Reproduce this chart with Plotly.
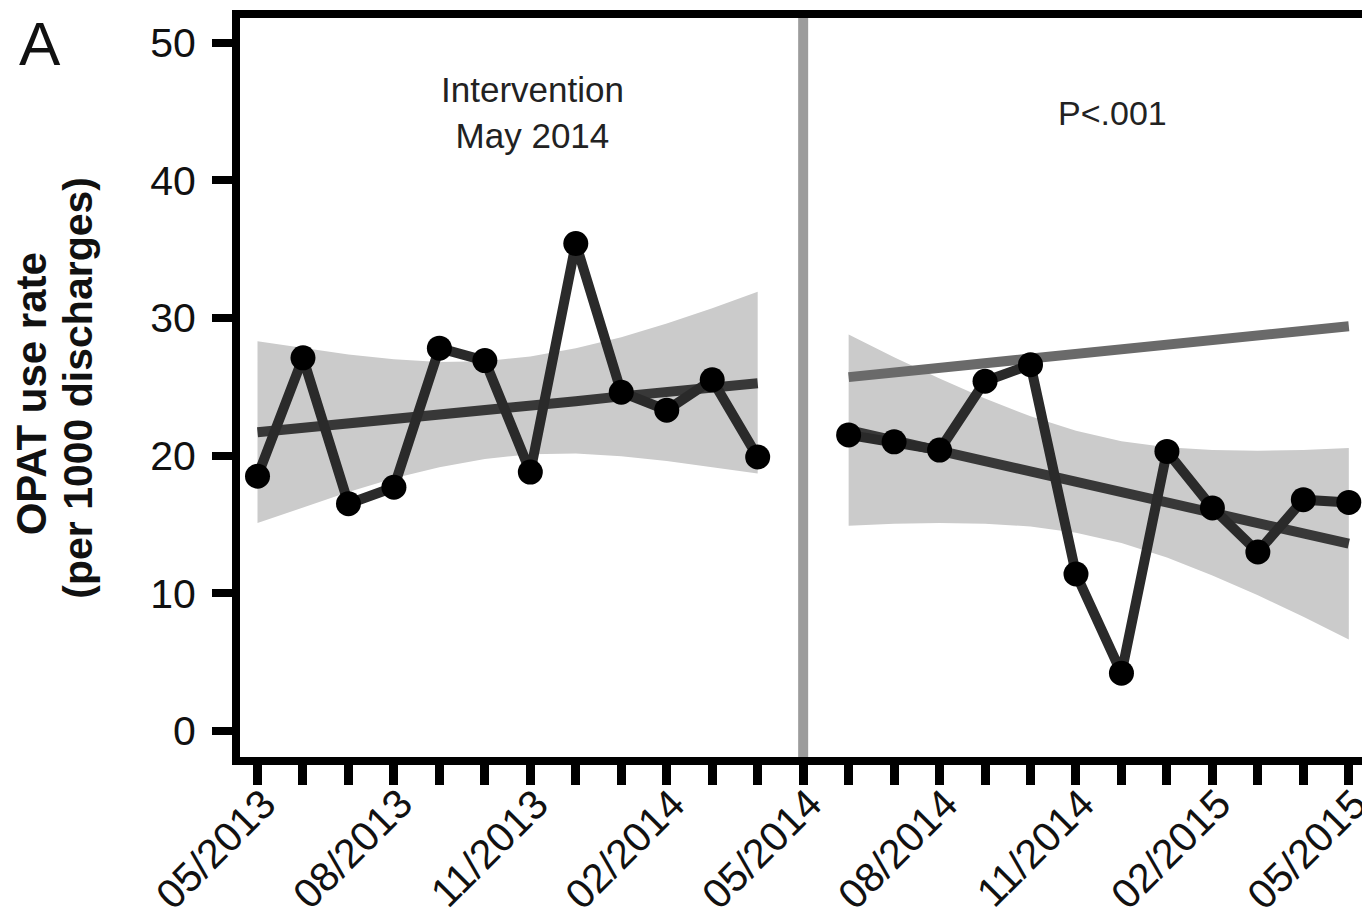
import plotly.graph_objects as go

# ---- data ----
month_labels = ["05/2013", "06/2013", "07/2013", "08/2013", "09/2013", "10/2013", "11/2013",
                "12/2013", "01/2014", "02/2014", "03/2014", "04/2014", "05/2014", "06/2014",
                "07/2014", "08/2014", "09/2014", "10/2014", "11/2014", "12/2014", "01/2015",
                "02/2015", "03/2015", "04/2015", "05/2015"]
shown_labels = ["05/2013", "08/2013", "11/2013", "02/2014", "05/2014", "08/2014",
                "11/2014", "02/2015", "05/2015"]

pre_idx = [0, 1, 2, 3, 4, 5, 6, 7, 8, 9, 10, 11]
pre_rate = [18.5, 27.1, 16.5, 17.7, 27.8, 26.9, 18.8, 35.4, 24.6, 23.3, 25.5, 19.9]
pre_trend = [21.7, 22.0, 22.35, 22.65, 23.0, 23.3, 23.65, 23.95, 24.3, 24.6, 24.9, 25.25]
pre_upper = [28.3, 27.8, 27.35, 27.0, 26.8, 26.85, 27.2, 27.8, 28.6, 29.6, 30.7, 31.9]
pre_lower = [15.1, 16.2, 17.35, 18.35, 19.15, 19.75, 20.1, 20.15, 19.95, 19.6, 19.15, 18.7]

post_idx = [13, 14, 15, 16, 17, 18, 19, 20, 21, 22, 23, 24]
post_rate = [21.5, 21.0, 20.4, 25.4, 26.6, 11.4, 4.2, 20.3, 16.2, 13.0, 16.8, 16.6]
post_trend = [21.85, 21.1, 20.35, 19.6, 18.85, 18.1, 17.35, 16.6, 15.85, 15.1, 14.35, 13.6]
post_upper = [28.8, 27.15, 25.6, 24.15, 22.85, 21.8, 21.05, 20.6, 20.4, 20.35, 20.4, 20.55]
post_lower = [14.9, 15.05, 15.1, 15.05, 14.85, 14.4, 13.65, 12.6, 11.3, 9.85, 8.3, 6.65]

counterfactual_idx = [13, 24]
counterfactual = [25.7, 29.4]

intervention_idx = 12

FONT = "Liberation Sans, Arial, Helvetica, sans-serif"
BAND = "#cbcbcb"
DATA_LINE = "#2a2a2a"
TREND = "#383838"
CF = "#6a6a6a"

fig = go.Figure()

for idx, up, lo in [(pre_idx, pre_upper, pre_lower), (post_idx, post_upper, post_lower)]:
    fig.add_trace(go.Scatter(x=idx + idx[::-1], y=up + lo[::-1], fill="toself",
                             fillcolor=BAND, line=dict(width=0), mode="lines",
                             hoverinfo="skip", showlegend=False))

fig.add_trace(go.Scatter(x=counterfactual_idx, y=counterfactual, mode="lines",
                         line=dict(color=CF, width=10), showlegend=False))
fig.add_trace(go.Scatter(x=pre_idx, y=pre_trend, mode="lines",
                         line=dict(color=TREND, width=10), showlegend=False))
fig.add_trace(go.Scatter(x=post_idx, y=post_trend, mode="lines",
                         line=dict(color=TREND, width=10), showlegend=False))

for idx, rate in [(pre_idx, pre_rate), (post_idx, post_rate)]:
    fig.add_trace(go.Scatter(x=idx, y=rate, mode="lines+markers",
                             line=dict(color=DATA_LINE, width=10),
                             marker=dict(color="black", size=25),
                             showlegend=False))

fig.add_shape(type="line", xref="x", yref="paper", x0=intervention_idx, x1=intervention_idx,
              y0=0, y1=1, line=dict(color="#9c9c9c", width=10), layer="below")

tick_vals = list(range(len(month_labels)))

fig.update_xaxes(range=[-0.385, 24.4], tickmode="array", tickvals=tick_vals,
                 ticktext=["" for _ in month_labels], showticklabels=False,
                 ticks="outside", ticklen=20, tickwidth=9, tickcolor="black",
                 showline=True, linewidth=8, linecolor="black", mirror=True,
                 showgrid=False, zeroline=False, automargin=False)
fig.update_yaxes(range=[-1.89, 51.78], tickvals=[0, 10, 20, 30, 40, 50],
                 ticks="outside", ticklen=20, tickwidth=8, tickcolor="black",
                 showline=True, linewidth=8, linecolor="black", mirror=True,
                 showgrid=False, zeroline=False, ticklabelstandoff=8, automargin=False,
                 tickfont=dict(family=FONT, size=41, color="#111"))

# rotated month labels (as annotations for precise placement)
for i, m in enumerate(month_labels):
    if m in shown_labels:
        fig.add_annotation(x=i, y=0, xref="x", yref="paper", text=m, textangle=-45,
                           showarrow=False, xanchor="right", yanchor="top",
                           xshift=30, yshift=-21,
                           font=dict(family=FONT, size=41, color="#111"))

fig.add_annotation(x=6.04, y=44.9, xref="x", yref="y", text="Intervention<br>May 2014",
                   showarrow=False, font=dict(family=FONT, size=35, color="#222"),
                   xanchor="center", yanchor="middle")
fig.add_annotation(x=18.8, y=44.9, xref="x", yref="y", text="P<.001",
                   showarrow=False, font=dict(family=FONT, size=34, color="#222"),
                   xanchor="center", yanchor="middle")
fig.add_annotation(x=-0.1775, y=0.965, xref="paper", yref="paper", text="A",
                   showarrow=False, font=dict(family=FONT, size=62, color="#111"),
                   xanchor="center", yanchor="middle")
fig.add_annotation(x=-0.1855, y=0.492, xref="paper", yref="paper", text="<b>OPAT use rate</b>",
                   textangle=-90, showarrow=False,
                   font=dict(family=FONT, size=42, color="#111"),
                   xanchor="center", yanchor="middle")
fig.add_annotation(x=-0.1445, y=0.5, xref="paper", yref="paper",
                   text="<b>(per 1000 discharges)</b>", textangle=-90, showarrow=False,
                   font=dict(family=FONT, size=41, color="#111"),
                   xanchor="center", yanchor="middle")

fig.update_layout(width=1370, height=923, margin=dict(l=232, r=11, t=10, b=174),
                  plot_bgcolor="white", paper_bgcolor="white", showlegend=False)

fig.write_html("out.html")
